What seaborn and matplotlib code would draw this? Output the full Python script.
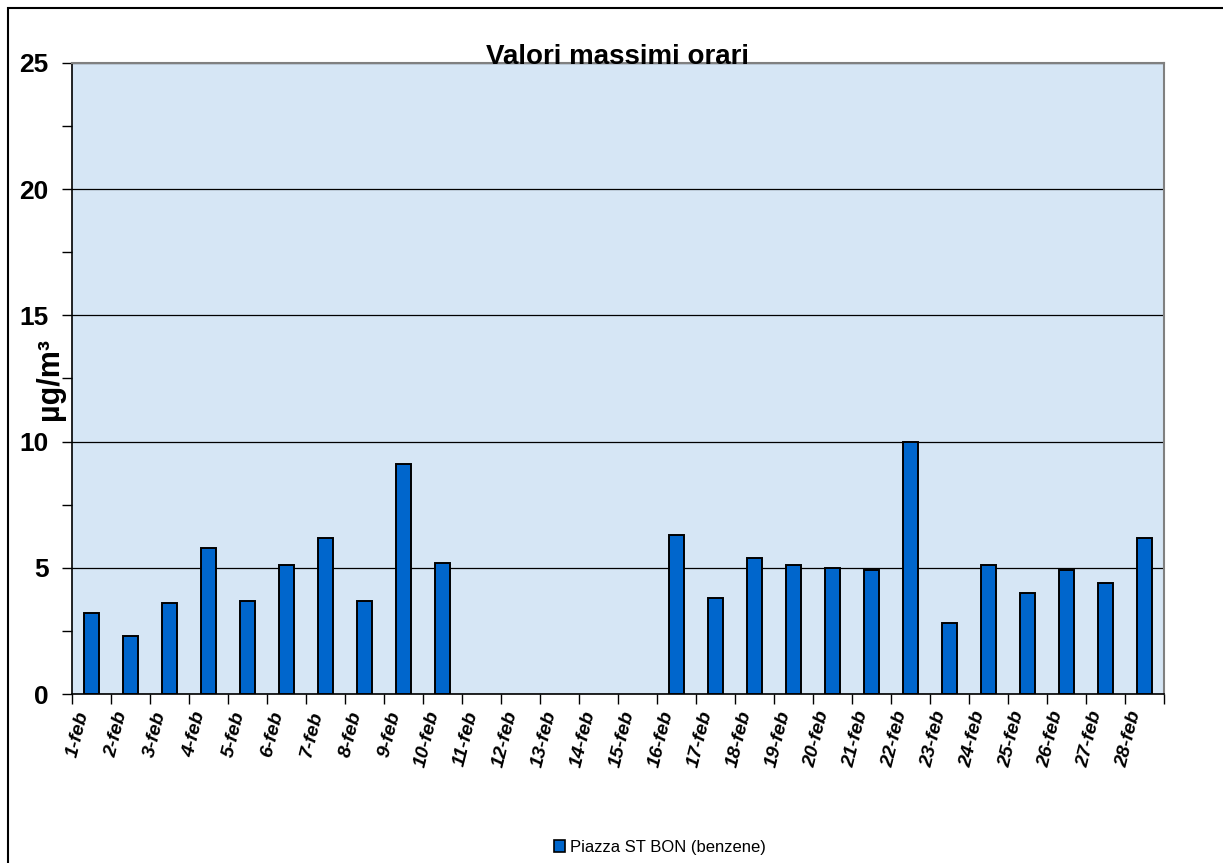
import pandas as pd
import numpy as np
import matplotlib.pyplot as plt
import matplotlib.patches as mpatches
from matplotlib.ticker import MultipleLocator, FixedLocator
import seaborn as sns

sns.set_style("white")
plt.rcParams["font.family"] = ["Liberation Sans", "DejaVu Sans"]
plt.rcParams["text.color"] = "black"
plt.rcParams["axes.labelcolor"] = "black"
plt.rcParams["xtick.color"] = "black"
plt.rcParams["ytick.color"] = "black"

#Data
days = [f"{d}-feb" for d in range(1, 29)]
benzene = [3.2, 2.3, 3.6, 5.8, 3.7, 5.1, 6.2, 3.7, 9.1, 5.2,
           np.nan, np.nan, np.nan, np.nan, np.nan,
           6.3, 3.8, 5.4, 5.1, 5.0, 4.9, 10.0, 2.8, 5.1, 4.0, 4.9, 4.4, 6.2]
series_name = "Piazza ST BON (benzene)"
title = "Valori massimi orari"
y_label = "µg/m³"

df = pd.DataFrame({"giorno": days, "valore": benzene})

W, H = 1223, 863
fig = plt.figure(figsize=(W / 100, H / 100), dpi=100)
ax = fig.add_axes([72 / W, 1 - 694 / H, (1164 - 72) / W, (694 - 63) / H])
ax.set_facecolor("#d6e6f5")

sns.barplot(data=df, x="giorno", y="valore", order=days, color="#0066cc",
            saturation=1, width=0.4, edgecolor="black", linewidth=1.4,
            errorbar=None, ax=ax, zorder=3)

ax.set_xlim(-0.5, len(days) - 0.5)
ax.set_ylim(0, 25)
ax.yaxis.set_major_locator(MultipleLocator(5))
ax.yaxis.set_minor_locator(MultipleLocator(2.5))
ax.grid(axis="y", which="major", color="black", linewidth=0.9, zorder=1)
ax.set_axisbelow(True)

# category ticks: labels at centres, tick marks at boundaries
ax.set_xticks(range(len(days)))
ax.set_xticklabels(days, rotation=76, ha="right", va="top",
                   fontsize=14, fontweight="bold", fontstyle="italic")
ax.xaxis.set_minor_locator(FixedLocator(np.arange(-0.5, len(days), 1)))
ax.tick_params(axis="x", which="major", length=0, pad=11, bottom=True)
ax.tick_params(axis="x", which="minor", length=7, width=1, color="black",
               direction="out", bottom=True)
ax.tick_params(axis="y", which="both", length=7, width=1, color="black",
               direction="out", left=True)
ax.tick_params(axis="y", which="major", labelsize=19, pad=10)
for lab in ax.get_yticklabels():
    lab.set_fontweight("bold")

ax.set_xlabel("")
ax.set_ylabel(y_label, fontsize=22, fontweight="bold")
ax.yaxis.set_label_coords(-0.02, 0.5)
ax.yaxis.label.set_va("center")

for side in ["left", "bottom"]:
    ax.spines[side].set_color("black")
    ax.spines[side].set_linewidth(1.2)
for side in ["top", "right"]:
    ax.spines[side].set_color("#808080")
    ax.spines[side].set_linewidth(1.5)

fig.text(617 / W, 1 - 64 / H, title, ha="center", va="baseline",
         fontsize=20, fontweight="bold")

handle = mpatches.Patch(facecolor="#0066cc", edgecolor="black", linewidth=1.2,
                        label=series_name)
fig.legend(handles=[handle], loc="center", bbox_to_anchor=(660 / W, 1 - 847 / H),
           frameon=False, fontsize=12, handlelength=0.7, handleheight=0.7,
           handletextpad=0.3)

# outer chart border
fig.add_artist(mpatches.Rectangle((8 / W, -0.05), 1.1, 1 - 8 / H + 0.05,
                                  transform=fig.transFigure, fill=False,
                                  edgecolor="black", linewidth=1.5))

plt.savefig("out.png", dpi=100)
